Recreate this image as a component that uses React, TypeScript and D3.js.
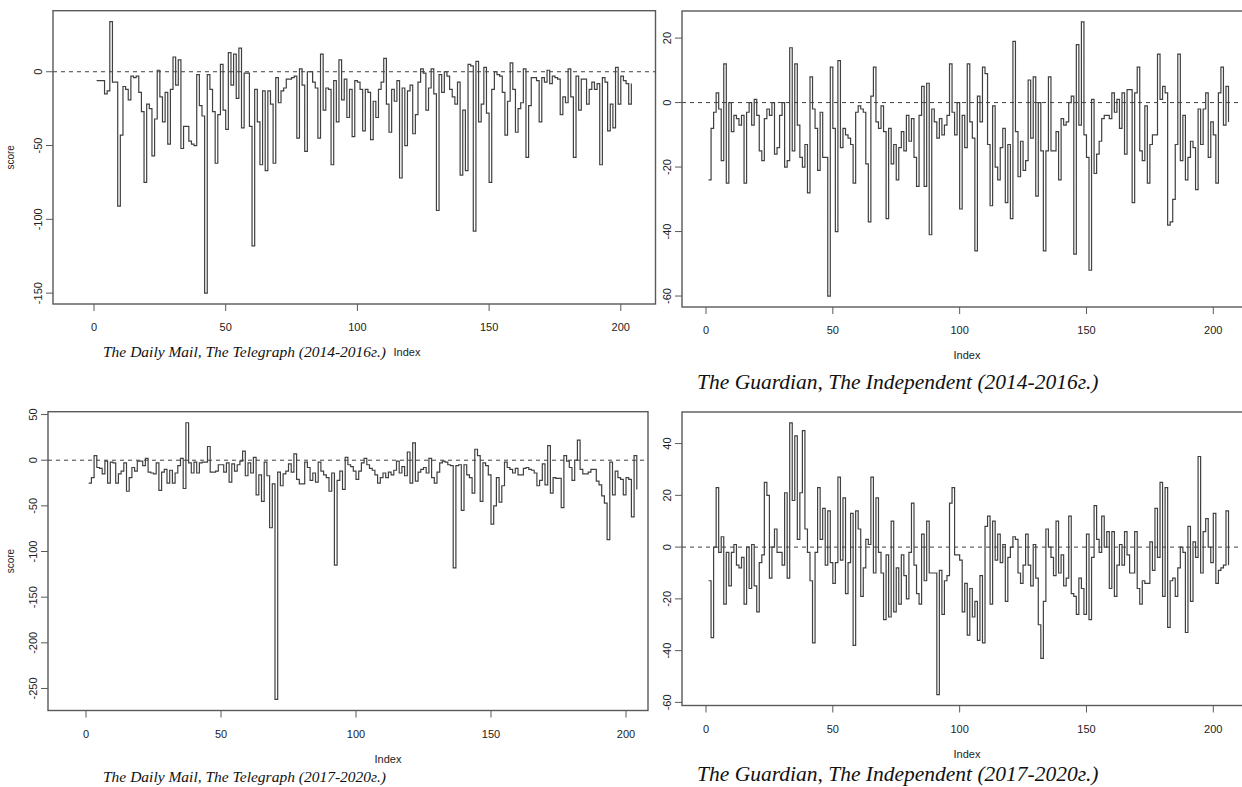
import * as d3 from 'd3'

// Daily Mail / Telegraph 2014-2016
const dmTel1416 = [
  -6, -6, -6, -15, -13, 34, -7, -7, -91, -43,
  -10, -12, -19, -3, -4, -3, -14, -27, -75, -22,
  -25, -57, -32, 1, -17, -34, -14, -49, -12, 10,
  -9, 8, -52, -37, -37, -47, -49, -50, -2, -23,
  -30, -150, -2, -12, -27, -62, -29, 5, -26, -39,
  13, -9, 12, -18, 16, -38, -1, -1, -37, -118,
  -12, -34, -63, -13, -67, -13, -22, -62,
  -4, -21, -13, -11, -5, -5, -4, -3, -45, 2, -9,
  -54, 0, 0, -7, -11, -45, 12, -26, -11, -12,
  -63, -6, -34, 8, -19, -5, -31, -12, -44, -6,
  -7, -12, -40, -12, -14, -46, -20, -31, -12, -7,
  9, -22, -41, -12, -20, -6, -72, -11, -50, -13, -9,
  -42, -29, -7, 2, -1, -26, -11, 2, -15, -94,
  -2, -14, 0, -3, -12, -17, -22, -7,
  -70, -26, -67, 5, 4, -108, 7, -34, -22, 3,
  -28, -75, -12, 0, -2, -3, -14, -43, -20, 6,
  -12, -41, -25, -21, 2, -58, -23, -4, -4, -6,
  -34, -4, -7, 1, -8, -3, -4, -5, -29, -17,
  -21, 2, -17, -58, -3, -26, -5, -5, -22, -12,
  -7, -12, -8, -63, -4, -7, -40, -22, -38, 3,
  -22, -3, -6, -8, -22, -8,
]

// Guardian / Independent 2014-2016
const guaInd1416 = [
  -24, -8, -3, 3, -2, -18, 12, -25, 0, -9,
  -4, -5, -7, -4, -25, -3, 0, -7, 1, -4,
  -15, -18, -5, -2, -4, 0, -16, -14, -4, 0,
  -20, -18, 17, -15, 12, -7, -17, -20, -13, -28,
  8, -2, -8, -21, -3, -17, -17, -60, 11, -8,
  -40, 13, -14, -8, -10, -11, -13, -25, -3, -1,
  -2, -3, -19, -37, 2, 11,
  -6, -8, -1, -9, -36, -8, -19, -13, -24, -14,
  -9, -15, -4, -12, -5, -17, -26, -4, 5, -26,
  6, -41, -2, -6, -11, -5, -10, -7, -4, 12, -3,
  -10, 0, -33, -4, -14, 12, -6, -11, -46, 2,
  -6, 11, 9, -13, -32, -1, -20, -24, -14, -8, -31,
  -13, -36, 19, -9, -23, -12, -21, -18, 7, -11,
  8, -29, 0, -15, -46,
  -15, 8, -15, -15, -9, -24, -5, -7, -6, 0, 2,
  -47, 18, -7, 25, -10, -17, -52, 1, -22, -16,
  -12, -5, -4, -4, -5, 3, -3, 1, -8, 3, -16,
  4, 4, -31, 3, 11, -15, -18, -1, -25, -13,
  -10, -10, 15, 1, 5, 3, -38, -37, -30, -13,
  15, -18, -4, -24, -17, -12, -14, -27, -2, -13, -2,
  3, -17, -6, -10, -25, 3, 11, -7, 5, -6,
]

// Daily Mail / Telegraph 2017-2020
const dmTel1720 = [
  -25, -19, 5, -8, -9, -15, -1, -25, -2, -3,
  -25, -15, -12, -3, -34, -19, -8, -12, -1, -1,
  -6, 2, -13, -14, -15, -3, -33, -13, -10, -25,
  -11, -25, -14, -6, 2, -31, 41, -3, -14, -2,
  -14, -3, -2, -2, 15, -13, -13, -12, -5, -5,
  -13, -3, -24, -4, -12, -5, -1, 10, -17, -3,
  -14, 3, -38, -16, -45, -2, -17, -74,
  -26, -262, -13, -28, -15, -12, -4, -13, 7, -21,
  -26, -26, -2, -8, -22, -14, -24, -2, -12, -16,
  -19, -34, -14, -115, -22, -12, -32, 3, -5, -7,
  -12, -21, -12, -3, 2, -5, -9, -11, -16, -25,
  -19, -14, -19, -13, -16, -11, -1, -14, -7, -17,
  9, -25, 19, -23, -13, -10, -8, -14, 2, -19,
  -25, -13, -3, -1, -2, -5, -6, -118,
  -6, -5, -55, -5, -16, -19, -36, 12, 5, -45,
  -3, -6, -16, -70, -50, -19, -46, -28, -2, -8,
  -10, -14, -9, -16, -16, -9, -8, -10, -11, -14,
  -28, -22, -4, -27, 16, -36, -19, -20, -20, -52,
  5, -1, -8, -22, 0, 22, -10, -15, -15, -13,
  -10, -10, -23, -27, -39, -47, -87, -2, -38, -12,
  -19, -21, -38, -19, -21, -62, 5, -32,
]

// Guardian / Independent 2017-2020
const guaInd1720 = [
  -13, -35, 0, 23, -2, 4, -22, -2, -15, -2,
  1, -7, -8, -4, -22, 0, -16, 1, -15, -25, -6,
  -3, 25, 20, -12, 0, 7, -2, -2, -7, 21,
  -12, 48, 18, 43, 3, 21, 45, 7, -2, -13,
  -37, -2, 23, 3, 15, -7, 14, -6, -14, -6,
  27, -5, 19, -18, -6, 13, -38, 14, 7, -19,
  -8, 3, 1, 27, -10, 19,
  -2, -10, -28, -3, -27, 10, -25, -8, -22, -3,
  -11, -20, -2, 17, -7, -18, -22, 5, -13, 10, -10,
  -10, -10, -57, -9, -26, -13, -11, 17, 23, -3,
  -3, -5, -25, -14, -34, -16, -27, -21, -36, -11,
  -37, 8, 12, -22, 10, -5, 5, -6, 1, -21, -4,
  0, 4, 3, -10, -14, -7, 5, -7, -15, 1, -12,
  -30, -43, -21, 7,
  0, -4, -11, 10, -10, -3, -15, -12, 12, -18,
  -19, -26, -12, -16, -26, 5, -28, -4, 16, 3, -2,
  12, 0, 6, -16, 6, -19, -7, 1, -7, 6,
  -3, -10, -10, 6, -16, -22, -13, -14, -14, 2, -9,
  15, -4, 25, -19, 23, -31, -13, -12, -19, -8,
  0, -2, -33, 8, -21, 2, -4, 35, -10, 6, 11,
  0, -6, 13, -14, -9, -8, -7, 14, -7,
]

const xTicks = [0, 50, 100, 150, 200]
const yTicksDm1416 = [-150, -100, -50, 0]
const yTicksGu1416 = [-60, -40, -20, 0, 20]
const yTicksDm1720 = [-250, -200, -150, -100, -50, 0, 50]
const yTicksGu1720 = [-60, -40, -20, 0, 20, 40]

const captions = [
  'The Daily Mail, The Telegraph (2014-2016г.)',
  'The Guardian, The Independent (2014-2016г.)',
  'The Daily Mail, The Telegraph (2017-2020г.)',
  'The Guardian, The Independent (2017-2020г.)',
]

const INK = '#404040'
const FRAME = '#595959'
const AXIS_FONT = 'Liberation Sans, Arial, sans-serif'

interface Box { l: number; r: number; t: number; b: number }

interface PanelProps {
  data: number[]
  yTicks: number[]
  box: Box
  x0: number       // pixel of index 0
  x200: number     // pixel of index 200
  indexX: number
  caption: string
  capX: number
  capY: number
  capSize: number
  showYLab: boolean
}

function Panel({ data, yTicks, box, x0, x200, indexX, caption, capX, capY, capSize, showYLab }: PanelProps) {
  const x = d3.scaleLinear().domain([0, 200]).range([x0, x200])
  // R-style 4% extension on y
  const lo = d3.min(data) ?? 0
  const hi = d3.max(data) ?? 0
  const yPad = 0.04 * (hi - lo)
  const y = d3.scaleLinear().domain([lo - yPad, hi + yPad]).range([box.b, box.t])

  const path = d3.line<number>()
    .x((_, i) => x(i + 1))
    .y(d => y(d))
    .curve(d3.curveStepAfter)(data) ?? ''

  const tick = 7

  return (
    <g>
      <rect x={box.l} y={box.t} width={box.r - box.l} height={box.b - box.t}
        fill="none" stroke={FRAME} strokeWidth={1.4} />
      <line x1={box.l} x2={box.r} y1={y(0)} y2={y(0)}
        stroke={INK} strokeWidth={1} strokeDasharray="4 4" />
      <path d={path} fill="none" stroke={INK} strokeWidth={1.2} />

      {/* x axis */}
      {xTicks.map(t => (
        <g key={t}>
          <line x1={x(t)} x2={x(t)} y1={box.b} y2={box.b + tick} stroke={FRAME} />
          <text x={x(t)} y={box.b + 27} textAnchor="middle" fontSize={11}
            fontFamily={AXIS_FONT} fill="#222">{t}</text>
        </g>
      ))}
      <text x={indexX} y={box.b + 52} textAnchor="middle" fontSize={11}
        fontFamily={AXIS_FONT} fill="#222">Index</text>

      {/* y axis */}
      {yTicks.map(t => (
        <g key={t}>
          <line x1={box.l - tick} x2={box.l} y1={y(t)} y2={y(t)} stroke={FRAME} />
          <text transform={`translate(${box.l - 11},${y(t)}) rotate(-90)`}
            textAnchor="middle" fontSize={11} fontFamily={AXIS_FONT} fill="#222">{t}</text>
        </g>
      ))}
      {showYLab && (
        <text transform={`translate(14,${(box.t + box.b) / 2}) rotate(-90)`}
          textAnchor="middle" fontSize={10} fontFamily={AXIS_FONT} fill="#222">score</text>
      )}

      <text x={capX} y={capY} fontSize={capSize} fontStyle="italic"
        fontFamily="Liberation Serif, Times New Roman, serif" fill="#111">{caption}</text>
    </g>
  )
}

export default function App() {
  return (
    <div style={{ position: 'absolute', left: 0, top: 0, width: 1242, height: 787, background: '#fff' }}>
      <svg width={1242} height={787} style={{ display: 'block' }}>
        <rect width={1242} height={787} fill="#fff" />
        <Panel data={dmTel1416} yTicks={yTicksDm1416}
          box={{ l: 53, r: 655.5, t: 10.7, b: 304 }} x0={94} x200={620.8} indexX={407}
          caption={captions[0]} capX={103} capY={357} capSize={15.5} showYLab />
        <Panel data={guaInd1416} yTicks={yTicksGu1416}
          box={{ l: 682, r: 1249, t: 11, b: 307 }} x0={706} x200={1213.3} indexX={967}
          caption={captions[1]} capX={697} capY={389} capSize={21.5} showYLab={false} />
        <Panel data={dmTel1720} yTicks={yTicksDm1720}
          box={{ l: 48, r: 648, t: 411.7, b: 710.5 }} x0={86} x200={626} indexX={388}
          caption={captions[2]} capX={103} capY={782} capSize={15.5} showYLab />
        <Panel data={guaInd1720} yTicks={yTicksGu1720}
          box={{ l: 682, r: 1249, t: 412, b: 705.5 }} x0={706} x200={1213.3} indexX={967}
          caption={captions[3]} capX={697} capY={781} capSize={21.5} showYLab={false} />
      </svg>
    </div>
  )
}
